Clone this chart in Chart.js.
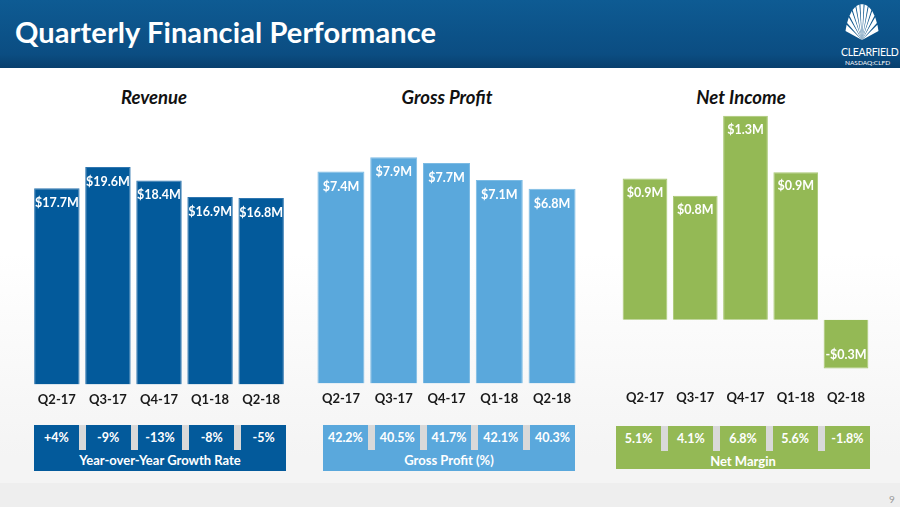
<!DOCTYPE html>
<html>
<head>
<meta charset="utf-8">
<script src="https://cdn.jsdelivr.net/npm/chart.js@4.4.0/dist/chart.umd.min.js"></script>
<style>
  html, body { margin: 0; padding: 0; }
  body {
    width: 900px; height: 507px; overflow: hidden; position: relative;
    font-family: Lato, "Open Sans", sans-serif;
    background: linear-gradient(#ffffff 0%, #ffffff 50%, #f4f4f4 90%, #f4f4f4 95.2%, #eeeeee 95.3%, #eeeeee 100%);
  }
  .header {
    position: absolute; left: 0; top: 0; width: 900px; height: 68px;
    background: linear-gradient(#0e5b93, #0b4d82 80%, #083f6d);
  }
  .header h1 {
    position: absolute; left: 15px; top: 14px; margin: 0;
    color: #fff; font-size: 29px; font-weight: 700; letter-spacing: 0.1px;
  }
  .logo { position: absolute; left: 832px; top: 0; width: 68px; height: 68px; }
  .logo .name { position: absolute; left: 9px; top: 46px; color: #fff; font-size: 10.5px; letter-spacing: -0.3px; }
  .logo .tick { position: absolute; left: 13px; top: 59px; color: #fff; font-size: 6.5px; }
  .title {
    position: absolute; top: 86px; width: 200px; text-align: center;
    font-size: 18.5px; font-weight: 700; font-style: italic; color: #111;
  }
  .chart { position: absolute; }
  .box { position: absolute; height: 46px; color: #fff; font-size: 12.5px; font-weight: 700; }
  .box .row { display: flex; height: 25px; }
  .box .cell { flex: 1; text-align: center; line-height: 25px; }
  .box .sep { width: 7px; background: #d9d9d9; }
  .box .label { text-align: center; line-height: 20px; font-size: 13px; }
  .page { position: absolute; left: 889px; top: 493px; color: #9a9a9a; font-size: 10px; }
</style>
</head>
<body>
<div class="header">
  <h1>Quarterly Financial Performance</h1>
  <div class="logo">
    <svg id="shell" width="68" height="46" viewBox="0 0 68 46"></svg>
    <div class="name">CLEARFIELD</div>
    <div class="tick">NASDAQ:CLFD</div>
  </div>
</div>

<div class="title" style="left:54px">Revenue</div>
<div class="title" style="left:347px">Gross Profit</div>
<div class="title" style="left:641px">Net Income</div>

<div class="chart" style="left:30px; top:150px; width:258px; height:266px"><canvas id="revChart"></canvas></div>
<div class="chart" style="left:314px; top:140px; width:265px; height:275px"><canvas id="gpChart"></canvas></div>
<div class="chart" style="left:610px; top:100px; width:271px; height:323px"><canvas id="niChart"></canvas></div>

<div class="box" id="revBox" style="left:34px; top:425px; width:252px; background:#035a9b"></div>
<div class="box" id="gpBox" style="left:323px; top:425px; width:252px; background:#5aa8dc"></div>
<div class="box" id="niBox" style="left:616px; top:426px; width:254px; height:43px; background:#94b955"></div>

<div class="page">9</div>

<script>
// --- Data ---
const quarters = ['Q2-17', 'Q3-17', 'Q4-17', 'Q1-18', 'Q2-18'];
const revenue = [17.7, 19.6, 18.4, 16.9, 16.8];
const grossProfit = [7.4, 7.9, 7.7, 7.1, 6.8];
const netIncome = [0.9, 0.79, 1.3, 0.94, -0.31];
const revGrowth = ['+4%', '-9%', '-13%', '-8%', '-5%'];
const gpPercent = ['42.2%', '40.5%', '41.7%', '42.1%', '40.3%'];
const netMargin = ['5.1%', '4.1%', '6.8%', '5.6%', '-1.8%'];

// --- Logo fan ---
const shell = document.getElementById('shell');
let paths = '';
for (let i = 0; i < 11; i++) {
    const a1 = Math.PI * (0.08 + i * 0.078);
    const a2 = a1 + Math.PI * 0.06;
    const cx = 30, cy = 40;
    const p1 = [cx - 17 * Math.cos(a1), cy - 36 * Math.sin(a1)];
    const p2 = [cx - 17 * Math.cos(a2), cy - 36 * Math.sin(a2)];
    paths += `<path d="M${cx} ${cy} L${p1[0].toFixed(1)} ${p1[1].toFixed(1)} L${p2[0].toFixed(1)} ${p2[1].toFixed(1)} Z" fill="#fff"/>`;
}
shell.innerHTML = paths;

// --- Bottom value boxes ---
function buildBox(id, values, label) {
    const box = document.getElementById(id);
    const cells = values.map(v => `<div class="cell">${v}</div>`).join('<div class="sep"></div>');
    box.innerHTML = `<div class="row">${cells}</div><div class="label">${label}</div>`;
}
buildBox('revBox', revGrowth, 'Year-over-Year Growth Rate');
buildBox('gpBox', gpPercent, 'Gross Profit (%)');
buildBox('niBox', netMargin, 'Net Margin');

// --- Labels inside the bars ---
const barLabels = {
    id: 'barLabels',
    afterDatasetsDraw(chart, args, opts) {
        const ctx = chart.ctx;
        const meta = chart.getDatasetMeta(0);
        const data = chart.data.datasets[0].data;
        ctx.save();
        ctx.fillStyle = '#fff';
        ctx.font = 'bold 12.5px Lato';
        ctx.textAlign = 'center';
        ctx.textBaseline = 'middle';
        meta.data.forEach((bar, i) => {
            const v = data[i];
            const txt = (v < 0 ? '-$' : '$') + Math.abs(v).toFixed(1) + 'M';
            const y = v < 0 ? bar.y - 13 : bar.y + opts.offset;
            ctx.fillText(txt, bar.x, y);
        });
        ctx.restore();
    }
};

function makeChart(id, values, color, border, yMin, yMax, pad, offset) {
    return new Chart(document.getElementById(id), {
        type: 'bar',
        data: {
            labels: quarters,
            datasets: [{
                data: values,
                backgroundColor: color,
                borderColor: border,
                borderWidth: 1,
                barPercentage: 0.89,
                categoryPercentage: 1
            }]
        },
        options: {
            responsive: true,
            maintainAspectRatio: false,
            animation: false,
            layout: { padding: 0 },
            plugins: {
                legend: { display: false },
                tooltip: { enabled: false },
                barLabels: { offset: offset }
            },
            scales: {
                x: {
                    grid: { display: false, drawTicks: false },
                    border: { display: false },
                    ticks: {
                        color: '#1a1a1a',
                        padding: pad,
                        font: { family: 'Lato', size: 13, weight: 'bold' }
                    }
                },
                y: { display: false, min: yMin, max: yMax }
            }
        },
        plugins: [barLabels]
    });
}

makeChart('revChart', revenue, '#035a9b', '#2f76b0', 0, 21.14, 8, 15);
makeChart('gpChart', grossProfit, '#5aa8dc', '#7cbbe4', 0, 8.5, 8, 15);
makeChart('niChart', netIncome, '#94b955', '#a9c874', -0.342, 1.40, 17, 14);
</script>
</body>
</html>
